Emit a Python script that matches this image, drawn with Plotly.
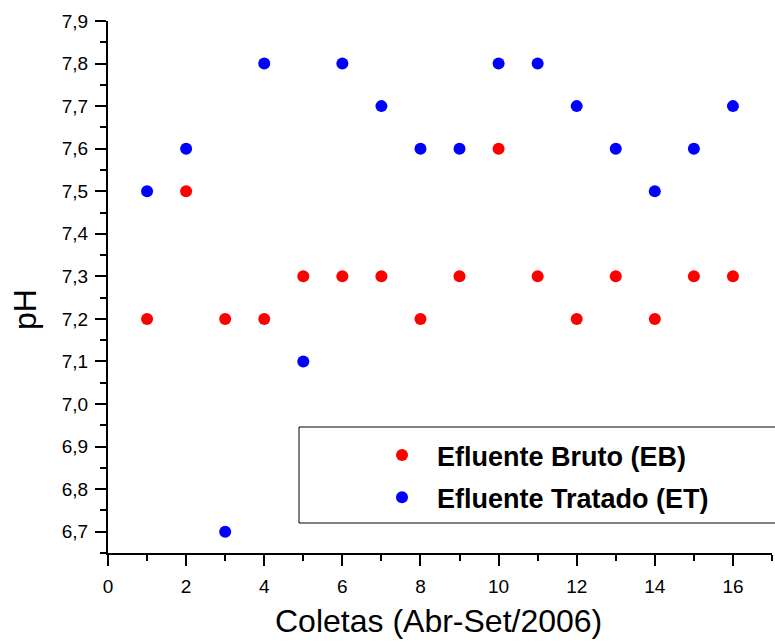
import plotly.graph_objects as go

coletas = list(range(1, 17))
ph_eb = [7.2, 7.5, 7.2, 7.2, 7.3, 7.3, 7.3, 7.2, 7.3, 7.6, 7.3, 7.2, 7.3, 7.2, 7.3, 7.3]
ph_et = [7.5, 7.6, 6.7, 7.8, 7.1, 7.8, 7.7, 7.6, 7.6, 7.8, 7.8, 7.7, 7.6, 7.5, 7.6, 7.7]
y_ticks = [6.7, 6.8, 6.9, 7.0, 7.1, 7.2, 7.3, 7.4, 7.5, 7.6, 7.7, 7.8, 7.9]
x_ticks = [0, 2, 4, 6, 8, 10, 12, 14, 16]

font_family = "Liberation Sans, Arial, sans-serif"

# plot area in pixels: left 108, right 772, top 21, bottom 553
PL, PR, PT, PB = 108, 772, 21, 553
def px_x(x):
    return (x - PL) / (PR - PL)
def px_y(y):
    return (PB - y) / (PB - PT)

fig = go.Figure()
fig.add_trace(go.Scatter(x=coletas, y=ph_eb, mode="markers", name="Efluente Bruto (EB)",
                         legendgroup="a",
                         marker=dict(color="#ff0000", size=12)))
fig.add_trace(go.Scatter(x=coletas, y=ph_et, mode="markers", name="Efluente Tratado (ET)",
                         legendgroup="b",
                         marker=dict(color="#0000ff", size=12)))

axis_common = dict(
    showline=True, linecolor="black", linewidth=2, mirror=False,
    ticks="outside", ticklen=11, tickwidth=2, tickcolor="black",
    showgrid=False, zeroline=False,
    tickfont=dict(family=font_family, size=19, color="black"),
)

fig.update_xaxes(range=[0, 17], tickvals=x_ticks, ticklabelstandoff=4,
                 minor=dict(dtick=1, ticks="outside", ticklen=6, tickwidth=2, tickcolor="black", showgrid=False),
                 **axis_common)
fig.update_yaxes(range=[6.65, 7.9], tickvals=y_ticks, tickformat=".1f", ticklabelstandoff=3,
                 minor=dict(dtick=0.05, tick0=6.65, ticks="outside", ticklen=6, tickwidth=2, tickcolor="black", showgrid=False),
                 **axis_common)

# axis titles
fig.add_annotation(text="Coletas (Abr-Set/2006)", xref="paper", yref="paper",
                   x=px_x(438), y=px_y(621), xanchor="center", yanchor="middle",
                   showarrow=False, font=dict(family=font_family, size=32, color="black"))
fig.add_annotation(text="pH", xref="paper", yref="paper", textangle=-90,
                   x=px_x(25), y=px_y(310), xanchor="center", yanchor="middle",
                   showarrow=False, font=dict(family=font_family, size=32, color="black"))

# legend frame
fig.add_shape(type="rect", xref="paper", yref="paper",
              x0=px_x(299), x1=px_x(780), y0=px_y(523), y1=px_y(427),
              line=dict(color="black", width=1), fillcolor="rgba(0,0,0,0)")

fig.update_layout(
    width=775, height=642,
    margin=dict(l=PL, r=775 - PR, t=PT, b=642 - PB),
    paper_bgcolor="white", plot_bgcolor="white",
    separators=",.",
    legend=dict(x=px_x(367), y=px_y(431), xanchor="left", yanchor="top",
                bgcolor="rgba(0,0,0,0)", borderwidth=0,
                font=dict(family=font_family, size=27, color="black", weight="bold"),
                tracegroupgap=4, itemwidth=60),
    showlegend=True,
)

fig.write_html("out.html")
